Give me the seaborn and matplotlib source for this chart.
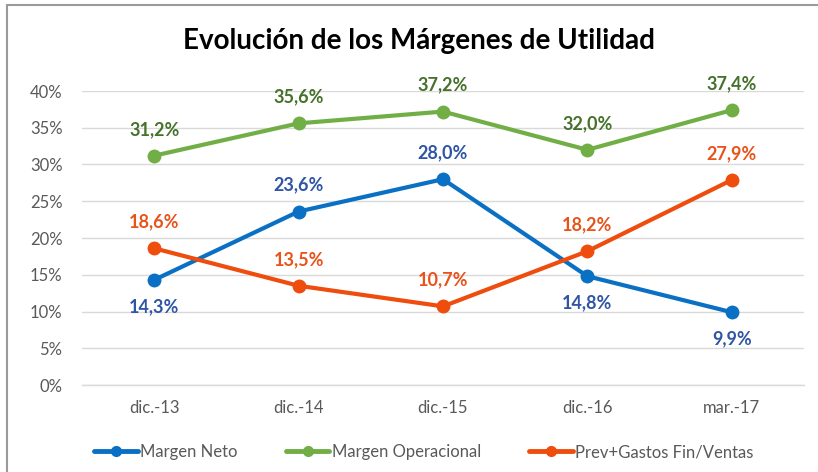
import matplotlib
matplotlib.use("Agg")
import matplotlib.pyplot as plt
import matplotlib.patches as mpatches
import matplotlib.ticker as mtick
import seaborn as sns
import pandas as pd

periods = ["dic.-13", "dic.-14", "dic.-15", "dic.-16", "mar.-17"]
margen_neto = [14.3, 23.6, 28.0, 14.8, 9.9]
margen_operacional = [31.2, 35.6, 37.2, 32.0, 37.4]
prev_gastos = [18.6, 13.5, 10.7, 18.2, 27.9]

series_names = ["Margen Neto", "Margen Operacional", "Prev+Gastos Fin/Ventas"]
line_colors = ["#0A70C4", "#72AE46", "#EE4D0E"]
label_colors = ["#2F55A4", "#45722A", "#E8531A"]
# +1 label above the point, -1 below
label_side = [[-1, 1, 1, -1, -1], [1, 1, 1, 1, 1], [1, 1, 1, 1, 1]]

sns.set_style("white")
plt.rcParams["font.family"] = ["Lato", "DejaVu Sans"]

df = pd.DataFrame({
    "periodo": periods * 3,
    "valor": [v / 100 for v in margen_neto + margen_operacional + prev_gastos],
    "serie": [n for n in series_names for _ in periods],
})

fig = plt.figure(figsize=(8.18, 4.72), dpi=100)
ax = fig.add_axes([82 / 818, 1 - 385 / 472, (804 - 82) / 818, (385 - 91) / 472])

# outer chart frame (cut off at right and bottom like the screenshot)
fig.patches.append(mpatches.Rectangle((7 / 818, -0.1), 1.2, 1 - 5 / 472 + 0.1,
                                      transform=fig.transFigure, fill=False,
                                      edgecolor="#9A9A9A", linewidth=1.5, zorder=0))

sns.lineplot(data=df, x="periodo", y="valor", hue="serie", palette=line_colors,
             hue_order=series_names, marker="o", markersize=10, linewidth=3,
             markeredgewidth=0, ax=ax, legend=False, sort=False)

all_vals = [margen_neto, margen_operacional, prev_gastos]
for vals, col, sides in zip(all_vals, label_colors, label_side):
    for i, (v, s) in enumerate(zip(vals, sides)):
        ax.annotate(f"{v:.1f}%".replace(".", ","), (i, v / 100),
                    xytext=(0, 19 * s), textcoords="offset points",
                    ha="center", va="center", fontsize=13, fontweight="bold", color=col)

ax.set_ylim(0, 0.40)
ax.set_xlim(-0.5, 4.5)
ax.yaxis.set_major_locator(mtick.MultipleLocator(0.05))
ax.yaxis.set_major_formatter(mtick.PercentFormatter(1.0, decimals=0))
ax.set_xticks(range(len(periods)))
ax.set_xticklabels(periods)
ax.set_xticks([i - 0.5 for i in range(len(periods) + 1)], minor=True)
ax.grid(axis="y", color="#D9D9D9", linewidth=1)
ax.set_axisbelow(True)
ax.set_xlabel("")
ax.set_ylabel("")
for sp in ["top", "right", "left"]:
    ax.spines[sp].set_visible(False)
ax.spines["bottom"].set_color("#D9D9D9")
ax.spines["bottom"].set_linewidth(1)
ax.tick_params(axis="x", which="major", length=0, pad=11, labelsize=12, labelcolor="#595959")
ax.tick_params(axis="x", which="minor", length=5, color="#D9D9D9", direction="out")
ax.tick_params(axis="y", length=0, pad=14, labelsize=12, labelcolor="#595959")
for ln in ax.lines:
    ln.set_clip_on(False)

fig.text(419 / 818, 1 - 41 / 472, "Evolución de los Márgenes de Utilidad",
         ha="center", va="center", fontsize=20, fontweight="bold", color="black")

handles = [plt.Line2D([], [], color=c, linewidth=3.5, marker="o", markersize=7)
           for c in line_colors]
fig.legend(handles, series_names, loc="center", bbox_to_anchor=(424 / 818, 1 - 452 / 472),
           ncol=3, frameon=False, fontsize=12, handlelength=2.6, handletextpad=0.15,
           columnspacing=2.9, labelcolor="#595959")

fig.savefig("out.png", dpi=100)
